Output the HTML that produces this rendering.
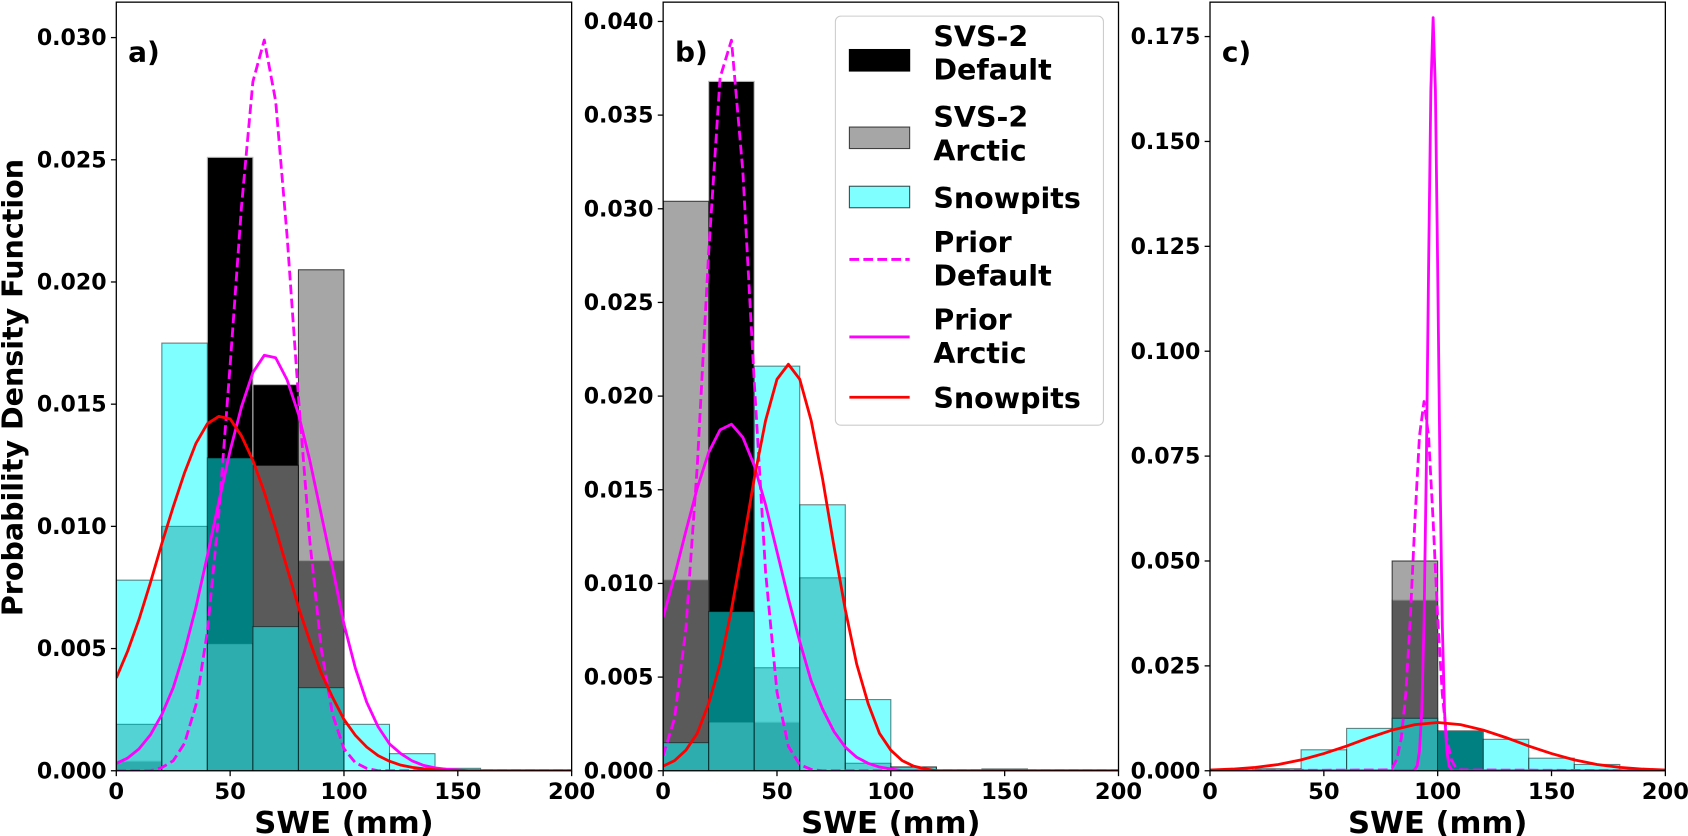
<!DOCTYPE html>
<html><head><meta charset="utf-8"><style>
html,body{margin:0;padding:0;background:#fff;}
svg{display:block;font-family:"DejaVu Sans","Liberation Sans",sans-serif;font-weight:bold;}
</style></head><body>
<svg id="chart" width="1688" height="836" viewBox="0 0 1568 776.6" xmlns="http://www.w3.org/2000/svg"></svg>
<script>
// ---- data ----
const binEdges = [0,20,40,60,80,100,120,140,160,180,200];
const xGrid5 = [0,5,10,15,20,25,30,35,40,45,50,55,60,65,70,75,80,85,90,95,100,105,110,115,120,125,130,135,140,145,150,155,160,165,170,175,180,185,190,195,200];

// Panel a
const aDefaultHist = [0.0004,0,0.0251,0.0158,0.0086,0,0,0,0,0];
const aArcticHist  = [0.0019,0.0100,0.0052,0.0125,0.0205,0,0,0,0,0];
const aSnowHist    = [0.0078,0.0175,0.0128,0.0059,0.0034,0.0019,0.0007,0.0001,0,0];
const aPriorDefault = [0,0,0,0,0.00013,0.00041,0.00113,0.0027,0.0057,0.0105,0.0166,0.0231,0.0282,0.0299,0.0274,0.0219,0.0153,0.0094,0.0050,0.0023,0.0009,0.00033,0.0001,0,0,0,0,0,0,0,0,0,0,0,0,0,0,0,0,0,0];
const aPriorArctic = [0.0003,0.00052,0.0009,0.00147,0.0023,0.0034,0.0049,0.0067,0.0088,0.0110,0.0131,0.0149,0.0163,0.0170,0.0169,0.0160,0.0146,0.0127,0.0105,0.0083,0.0060,0.0042,0.0028,0.0018,0.0011,0.0007,0.0004,0.00022,0.00012,0.00006,0.00003,0,0,0,0,0,0,0,0,0,0];
const aSnowFit = [0.0038,0.0049,0.0062,0.0077,0.0093,0.0108,0.0122,0.0134,0.0142,0.0145,0.0144,0.0137,0.0127,0.0114,0.0099,0.0083,0.0067,0.0053,0.0040,0.0030,0.0021,0.00145,0.00097,0.00062,0.00039,0.00023,0.00014,0.00008,0.00004,0.00002,0.00001,0,0,0,0,0,0,0,0,0,0];

// Panel b
const bDefaultHist = [0.0102,0.0368,0.0026,0,0,0,0,0,0,0];
const bArcticHist  = [0.0304,0.0026,0.0055,0.0103,0.0004,0.0002,0,0,0,0];
const bSnowHist    = [0.0015,0.0085,0.0216,0.0142,0.0038,0.0002,0,0.0001,0,0];
const bPriorDefault = [0.0008,0.0028,0.0076,0.0163,0.0277,0.0370,0.0390,0.0320,0.0208,0.0106,0.0042,0.0013,0.00033,0.00007,0,0,0,0,0,0,0,0,0,0,0,0,0,0,0,0,0,0,0,0,0,0,0,0,0,0,0];
const bPriorArctic = [0.0082,0.0104,0.0128,0.0151,0.0170,0.0182,0.0185,0.0178,0.0163,0.0142,0.0117,0.0092,0.0069,0.0048,0.0033,0.0021,0.00126,0.00072,0.0004,0.0002,0.0001,0,0,0,0,0,0,0,0,0,0,0,0,0,0,0,0,0,0,0,0];
const bSnowFit = [0.00025,0.00054,0.0011,0.0020,0.0036,0.0057,0.0086,0.0120,0.0156,0.0187,0.0209,0.0217,0.0209,0.0187,0.0156,0.0120,0.0086,0.0057,0.0036,0.0020,0.0011,0.00054,0.00025,0.0001,0,0,0,0,0,0,0,0,0,0,0,0,0,0,0,0,0];

// Panel c
const cDefaultHist = [0,0,0,0,0.0407,0.0095,0,0,0,0];
const cArcticHist  = [0,0,0,0,0.0500,0,0,0,0,0];
const cSnowHist    = [0,0.0005,0.0050,0.0101,0.0125,0.0095,0.0075,0.0030,0.0015,0];
const cPriorDefaultX = [0,78,80,82,84,86,88,90,92,94,96,98,100,102,104,106,108,110,200];
const cPriorDefault  = [0,0.0002,0.0007,0.0026,0.0077,0.0185,0.0366,0.0596,0.0798,0.0880,0.0798,0.0596,0.0366,0.0185,0.0077,0.0026,0.0007,0.0002,0];
const cPriorArcticX = [0,89,90,91,92,93,94,95,96,97,98,99,100,101,102,103,104,105,106,107,200];
const cPriorArctic  = [0,0,0.0003,0.0012,0.0047,0.0142,0.0354,0.0720,0.1197,0.1623,0.1795,0.1623,0.1197,0.0720,0.0354,0.0142,0.0047,0.0012,0.0003,0,0];
const cSnowFitX = [0,10,20,30,40,50,60,70,80,90,100,110,120,130,140,150,160,170,180,190,200];
const cSnowFit  = [0.00018,0.0004,0.0008,0.0015,0.0026,0.0041,0.0059,0.0079,0.0097,0.0110,0.0115,0.0110,0.0097,0.0079,0.0059,0.0041,0.0026,0.0015,0.0008,0.0004,0.00018];

const xTicks = [0,50,100,150,200];
const aYTicks = [0,0.005,0.010,0.015,0.020,0.025,0.030];
const bYTicks = [0,0.005,0.010,0.015,0.020,0.025,0.030,0.035,0.040];
const cYTicks = [0,0.025,0.050,0.075,0.100,0.125,0.150,0.175];
const aYLabels = ["0.000","0.005","0.010","0.015","0.020","0.025","0.030"];
const bYLabels = ["0.000","0.005","0.010","0.015","0.020","0.025","0.030","0.035","0.040"];
const cYLabels = ["0.000","0.025","0.050","0.075","0.100","0.125","0.150","0.175"];

// ---- drawing ----
const NS = "http://www.w3.org/2000/svg";
const svg = document.getElementById("chart");
function mk(tag, attrs, parent){
  const e = document.createElementNS(NS, tag);
  for (const k in attrs) e.setAttribute(k, attrs[k]);
  (parent||svg).appendChild(e);
  return e;
}
const TOP = 2, BOT = 716, W = 423;

function panel(id, x0, ymax, hists, curves, yTicks, yLabels, letter){
  const g = mk("g", {});
  
  
  const sx = v => x0 + v / 200 * W;
  const sy = v => BOT - v / ymax * (BOT - TOP);
  const clipId = "clip-" + id;
  const cp = mk("clipPath", {id: clipId}, g);
  mk("rect", {x: x0, y: TOP, width: W, height: BOT - TOP}, cp);
  const plot = mk("g", {"clip-path": "url(#" + clipId + ")"}, g);
  hists.forEach(h => {
    const hg = mk("g", {}, plot);
    
    
    h.values.forEach((v, i) => {
      if (v <= 0) return;
      const r = mk("rect", {x: sx(binEdges[i]), y: sy(v), width: sx(binEdges[i+1]) - sx(binEdges[i]), height: sy(0) - sy(v),
        fill: h.fill, "fill-opacity": h.alpha, stroke: h.stroke, "stroke-opacity": h.strokeAlpha, "stroke-width": 1}, hg);
      
      
    });
  });
  curves.forEach(c => {
    const d = c.y.map((v, i) => (i ? "L" : "M") + sx(c.x[i]).toFixed(2) + "," + sy(v).toFixed(2)).join("");
    const p = mk("path", {d: d, fill: "none", stroke: c.color, "stroke-width": 2.6, "stroke-dasharray": c.dash || "none", "stroke-linejoin": "round"}, plot);
    
    
  });
  const sp = mk("rect", {x: x0, y: TOP, width: W, height: BOT - TOP, fill: "none", stroke: "#000", "stroke-width": 1.2}, g);
  
  
  yTicks.forEach((t, i) => {
    mk("line", {x1: x0 - 5, x2: x0, y1: sy(t), y2: sy(t), stroke: "#000", "stroke-width": 1.2}, g);
    const tx = mk("text", {x: x0 - 9, y: sy(t) + 7, "text-anchor": "end", "font-size": 20.5}, g);
    tx.textContent = yLabels[i];
    
    
  });
  xTicks.forEach(t => {
    mk("line", {x1: sx(t), x2: sx(t), y1: BOT, y2: BOT + 5, stroke: "#000", "stroke-width": 1.2}, g);
    const tx = mk("text", {x: sx(t), y: BOT + 26, "text-anchor": "middle", "font-size": 21}, g);
    tx.textContent = String(t);
    
    
  });
  const xl = mk("text", {x: x0 + W / 2, y: 774, "text-anchor": "middle", "font-size": 28.5}, g);
  xl.textContent = "SWE (mm)";
  
  
  const pl = mk("text", {x: x0 + 11, y: 57, "font-size": 26}, g);
  pl.textContent = letter;
  
  
}

function histSet(def, arc, snow){
  return [
    {name: "svs2-default-hist", values: def, fill: "#000", alpha: 1, stroke: "#bbb", strokeAlpha: 1},
    {name: "svs2-arctic-hist", values: arc, fill: "#808080", alpha: 0.7, stroke: "#000", strokeAlpha: 0.7},
    {name: "snowpits-hist", values: snow, fill: "#00ffff", alpha: 0.5, stroke: "#000", strokeAlpha: 0.5}
  ];
}

panel("a", 108, 0.03145, histSet(aDefaultHist, aArcticHist, aSnowHist), [
  {name: "prior-default-curve", x: xGrid5, y: aPriorDefault, color: "#ff00ff", dash: "9,4"},
  {name: "prior-arctic-curve", x: xGrid5, y: aPriorArctic, color: "#ff00ff"},
  {name: "snowpits-fit-curve", x: xGrid5, y: aSnowFit, color: "#ff0000"}
], aYTicks, aYLabels, "a)");

panel("b", 616, 0.04103, histSet(bDefaultHist, bArcticHist, bSnowHist), [
  {name: "prior-default-curve", x: xGrid5, y: bPriorDefault, color: "#ff00ff", dash: "9,4"},
  {name: "prior-arctic-curve", x: xGrid5, y: bPriorArctic, color: "#ff00ff"},
  {name: "snowpits-fit-curve", x: xGrid5, y: bSnowFit, color: "#ff0000"}
], bYTicks, bYLabels, "b)");

panel("c", 1124, 0.1832, histSet(cDefaultHist, cArcticHist, cSnowHist), [
  {name: "prior-default-curve", x: cPriorDefaultX, y: cPriorDefault, color: "#ff00ff", dash: "9,4"},
  {name: "prior-arctic-curve", x: cPriorArcticX, y: cPriorArctic, color: "#ff00ff"},
  {name: "snowpits-fit-curve", x: cSnowFitX, y: cSnowFit, color: "#ff0000"}
], cYTicks, cYLabels, "c)");

const yt = mk("text", {x: 0, y: 0, "text-anchor": "middle", "font-size": 26.5, transform: "translate(21,360) rotate(-90)"});
yt.textContent = "Probability Density Function";



const lg = mk("g", {});


mk("rect", {x: 776, y: 15, width: 249, height: 380, rx: 5, fill: "#fff", "fill-opacity": 0.85, stroke: "#ccc", "stroke-width": 1}, lg);
const legendItems = [
  {lines: ["SVS-2","Default"], ty: 43, kind: "patch", fill: "#000", op: 1, cy: 56},
  {lines: ["SVS-2","Arctic"], ty: 118, kind: "patch", fill: "#808080", op: 0.7, cy: 128},
  {lines: ["Snowpits"], ty: 193, kind: "patch", fill: "#00ffff", op: 0.5, cy: 183},
  {lines: ["Prior","Default"], ty: 234, kind: "line", color: "#ff00ff", dash: "9,4", cy: 241},
  {lines: ["Prior","Arctic"], ty: 306, kind: "line", color: "#ff00ff", cy: 313},
  {lines: ["Snowpits"], ty: 379, kind: "line", color: "#ff0000", cy: 369}
];
legendItems.forEach(it => {
  const eg = mk("g", {}, lg);
  
  
  if (it.kind === "patch") {
    mk("rect", {x: 789, y: it.cy - 10, width: 56, height: 20, fill: it.fill, "fill-opacity": it.op, stroke: "#000", "stroke-opacity": it.op === 1 ? 1 : 0.7}, eg);
  } else {
    mk("line", {x1: 789, x2: 845, y1: it.cy, y2: it.cy, stroke: it.color, "stroke-width": 2.6, "stroke-dasharray": it.dash || "none"}, eg);
  }
  it.lines.forEach((s, k) => {
    const t = mk("text", {x: 867, y: it.ty + k * 31, "font-size": 26.5}, eg);
    t.textContent = s;
  });
});
</script>
</body></html>
